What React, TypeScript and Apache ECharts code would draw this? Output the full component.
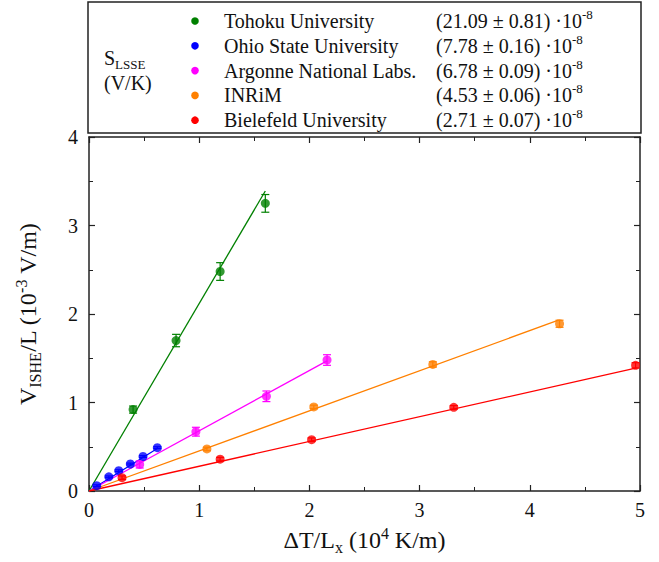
import React, { useEffect, useRef } from "react";
import * as echarts from "echarts";

const labNames = ["Tohoku University", "Ohio State University", "Argonne National Labs.", "INRiM", "Bielefeld University"];
const labSlopes = ["(21.09 ± 0.81)", "(7.78 ± 0.16)", "(6.78 ± 0.09)", "(4.53 ± 0.06)", "(2.71 ± 0.07)"];
const labColors = ["#008000", "#0000ff", "#ff00ff", "#ff8000", "#ff0000"];

// data points [x, y, err]
const tohokuPts = [[0.40, 0.92, 0.04], [0.79, 1.70, 0.07], [1.19, 2.48, 0.10], [1.60, 3.25, 0.10]];
const ohioPts = [[0.07, 0.06, 0.01], [0.18, 0.16, 0.01], [0.27, 0.23, 0.01], [0.375, 0.305, 0.01], [0.49, 0.39, 0.01], [0.62, 0.49, 0.01]];
const argonnePts = [[0.46, 0.30, 0.04], [0.97, 0.67, 0.05], [1.61, 1.07, 0.06], [2.16, 1.48, 0.06]];
const inrimPts = [[1.07, 0.475, 0.02], [2.04, 0.95, 0.02], [3.12, 1.43, 0.03], [4.27, 1.89, 0.04]];
const bielefeldPts = [[0.30, 0.15, 0.02], [1.19, 0.36, 0.02], [2.02, 0.58, 0.02], [3.31, 0.945, 0.02], [4.96, 1.42, 0.03]];

// fit lines [x, y]
const tohokuFit = [[0, 0], [1.60, 3.39]];
const ohioFit = [[0, 0], [0.62, 0.48]];
const argonneFit = [[0, 0], [2.16, 1.47]];
const inrimFit = [[0, 0], [4.26, 1.93]];
const bielefeldFit = [[0, 0], [4.97, 1.39]];

const allPts = [tohokuPts, ohioPts, argonnePts, inrimPts, bielefeldPts];
const allFits = [tohokuFit, ohioFit, argonneFit, inrimFit, bielefeldFit];

const xTickLabels = ["0", "1", "2", "3", "4", "5"];
const yTickLabels = ["0", "1", "2", "3", "4"];

const FONT = "'Liberation Serif', 'Times New Roman', serif";

export default function App() {
  const ref = useRef<HTMLDivElement>(null);
  useEffect(() => {
    if (!ref.current) return;
    const chart = echarts.init(ref.current, null, { renderer: "svg" });

    const series: any[] = [];
    allFits.forEach((fit, i) => {
      series.push({
        type: "line",
        data: fit,
        showSymbol: false,
        symbol: "none",
        lineStyle: { color: labColors[i], width: 1.3 },
        z: 2,
        silent: true,
      });
    });
    allPts.forEach((pts, i) => {
      series.push({
        type: "custom",
        data: pts,
        z: 3,
        silent: true,
        renderItem: (params: any, api: any) => {
          const x = api.value(0), y = api.value(1), e = api.value(2);
          if (!e) return null;
          const t = api.coord([x, y + e]);
          const b = api.coord([x, y - e]);
          const w = 4;
          const st = { stroke: labColors[i], lineWidth: 1.2 };
          return {
            type: "group",
            children: [
              { type: "line", shape: { x1: t[0], y1: t[1], x2: b[0], y2: b[1] }, style: st },
              { type: "line", shape: { x1: t[0] - w, y1: t[1], x2: t[0] + w, y2: t[1] }, style: st },
              { type: "line", shape: { x1: b[0] - w, y1: b[1], x2: b[0] + w, y2: b[1] }, style: st },
            ],
          };
        },
      });
      series.push({
        type: "scatter",
        data: pts.map((p) => [p[0], p[1]]),
        symbol: "circle",
        symbolSize: 9,
        itemStyle: { color: labColors[i] },
        z: 4,
        silent: true,
      });
    });

    const txt = { fontFamily: FONT, fontSize: 20, fill: "#111" };
    const graphic: any[] = [
      {
        type: "rect",
        shape: { x: 88, y: 2, width: 553, height: 131 },
        style: { fill: "none", stroke: "#222", lineWidth: 1.5 },
      },
      {
        type: "text",
        x: 104,
        y: 58,
        style: {
          text: "{a|S}{s|LSSE}",
          verticalAlign: "middle",
          rich: {
            a: { fontFamily: FONT, fontSize: 20, lineHeight: 26, fill: "#111", verticalAlign: "middle" },
            s: { fontFamily: FONT, fontSize: 13, lineHeight: 14, fill: "#111", verticalAlign: "bottom" },
          },
        },
      },
      {
        type: "text",
        x: 104,
        y: 83,
        style: { text: "(V/K)", ...txt, verticalAlign: "middle" },
      },
    ];
    labNames.forEach((n, i) => {
      const y = 21 + i * 24.8;
      graphic.push({ type: "circle", shape: { cx: 195, cy: y, r: 3.8 }, style: { fill: labColors[i] } });
      graphic.push({
        type: "text",
        x: 224,
        y,
        style: { text: n, ...txt, verticalAlign: "middle" },
      });
      graphic.push({
        type: "text",
        x: 436,
        y,
        style: {
          text: `{a|${labSlopes[i]} ·10}{p|-8}`,
          verticalAlign: "middle",
          rich: {
            a: { fontFamily: FONT, fontSize: 20, lineHeight: 26, fill: "#111", verticalAlign: "middle" },
            p: { fontFamily: FONT, fontSize: 13, lineHeight: 14, fill: "#111", verticalAlign: "top" },
          },
        },
      });
    });

    const axisCommon = {
      axisLine: { show: true, onZero: false, lineStyle: { color: "#222", width: 1.5 } },
      axisTick: { show: true, inside: true, length: 6, lineStyle: { color: "#222", width: 1.2 } },
      minorTick: { show: true, splitNumber: 2, length: 4, lineStyle: { color: "#222", width: 1 } },
      splitLine: { show: false },
    };

    const titleRich = {
      a: { fontFamily: FONT, fontSize: 24, lineHeight: 30, color: "#111", verticalAlign: "middle" },
      s: { fontFamily: FONT, fontSize: 16, lineHeight: 16, color: "#111", verticalAlign: "bottom" },
      p: { fontFamily: FONT, fontSize: 16, lineHeight: 16, color: "#111", verticalAlign: "top" },
    };

    chart.setOption({
      animation: false,
      backgroundColor: "#fff",
      grid: { left: 89, right: 19, top: 137, bottom: 71, containLabel: false, outerBoundsMode: "none" },
      xAxis: [
        {
          type: "value",
          min: 0,
          max: 5,
          interval: 1,
          position: "bottom",
          ...axisCommon,
          axisLabel: {
            fontFamily: FONT,
            fontSize: 20,
            color: "#111",
            margin: 9,
            formatter: (v: number) => xTickLabels[Math.round(v)] ?? "",
          },
          name: "{a|ΔT/L}{s|x}{a| (10}{p|4}{a| K/m)}",
          nameLocation: "middle",
          nameGap: 34,
          nameTextStyle: { rich: titleRich },
        },
        {
          type: "value",
          min: 0,
          max: 5,
          interval: 1,
          position: "top",
          ...axisCommon,
          axisLabel: { show: false },
        },
      ],
      yAxis: [
        {
          type: "value",
          min: 0,
          max: 4,
          interval: 1,
          position: "left",
          ...axisCommon,
          axisLabel: {
            fontFamily: FONT,
            fontSize: 20,
            color: "#111",
            margin: 11,
            formatter: (v: number) => yTickLabels[Math.round(v)] ?? "",
          },
          name: "{a|V}{s|ISHE}{a|/L (10}{p|-3}{a| V/m)}",
          nameLocation: "middle",
          nameRotate: 90,
          nameGap: 46,
          nameTextStyle: { rich: titleRich },
        },
        {
          type: "value",
          min: 0,
          max: 4,
          interval: 1,
          position: "right",
          ...axisCommon,
          axisLabel: { show: false },
        },
      ],
      series,
      graphic,
    });
    return () => chart.dispose();
  }, []);
  return <div ref={ref} style={{ width: 659, height: 562, position: "absolute", left: 0, top: 0, background: "#fff" }} />;
}
